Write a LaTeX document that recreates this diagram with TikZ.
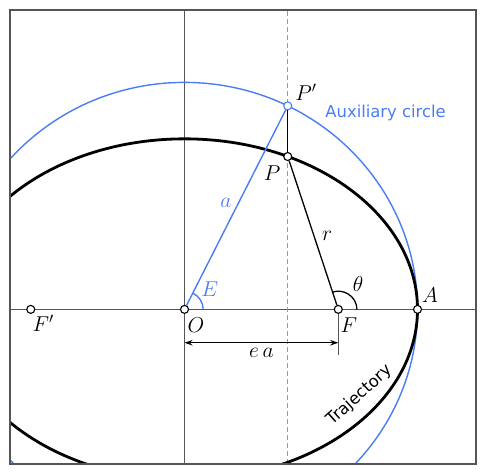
\RequirePackage{fix-cm}
\documentclass[tikz,border=0pt]{standalone}
\usepackage{fontspec}
\usetikzlibrary{arrows.meta}
\newfontfamily\plotsans{DejaVu Sans}
\definecolor{auxblue}{HTML}{4A7DF5}
\definecolor{axisgray}{HTML}{555555}
\definecolor{dashgray}{HTML}{999999}
\definecolor{framegray}{HTML}{555555}
\pgfdeclarelayer{bg}
\pgfsetlayers{bg,main}

\begin{document}
\begin{tikzpicture}[x=233pt, y=227pt,
  pt/.style={circle, draw, fill=white, line width=1.1pt, inner sep=0pt, minimum size=8pt},
  mlabel/.style={inner sep=0pt, font=\fontsize{21.5}{25}\selectfont},
  tlabel/.style={inner sep=0pt, font=\plotsans\fontsize{16.4}{19}\selectfont}]
  \def\ecc{0.66}
  \def\bsemi{0.7513}
  \def\Eang{63.7}
  \pgfmathsetmacro\Px{cos(\Eang)}
  \pgfmathsetmacro\Py{\bsemi*sin(\Eang)}
  \pgfmathsetmacro\thang{atan2(\Py,\Px-\ecc)}
  \useasboundingbox (-0.792,-0.725) rectangle (1.294,1.363);
  \coordinate (frSW) at (-0.749,-0.681);
  \coordinate (frNE) at (1.25,1.318);

  % points on the orbit
  \node[pt] (O) at (0,0) {};
  \node[pt] (F) at (\ecc,0) {};
  \node[pt] (Fp) at (-\ecc,0) {};
  \node[pt] (A) at (1,0) {};
  \node[pt] (P) at (\Px,\Py) {};
  \node[pt, draw=auxblue] (Pp) at ({cos(\Eang)},{sin(\Eang)}) {};
  \coordinate (Ftick) at (\ecc,-0.2);
  \coordinate (eaL) at (0,-0.147);
  \coordinate (eaR) at (\ecc,-0.147);

  \begin{pgfonlayer}{bg}
    \begin{scope}
      \clip (frSW) rectangle (frNE);
      \draw[axisgray, line width=1pt] (frSW |- O) -- (frNE |- O);
      \draw[axisgray, line width=1pt] (O |- frSW) -- (O |- frNE);
      \draw[dashgray, line width=1.4pt, dash pattern=on 5pt off 3pt] (P |- frSW) -- (P |- frNE);
      \draw[auxblue, line width=1.4pt] (O) circle[radius=1];
      \draw[line width=2.8pt] (O) ellipse[x radius=1, y radius=\bsemi];
    \end{scope}
  \end{pgfonlayer}

  % radii and construction lines
  \draw[line width=1.5pt] (P) -- (Pp);
  \draw[auxblue, line width=1.4pt] (O) -- (Pp);
  \draw[line width=1.3pt] (F) -- (P);
  \draw[axisgray, line width=1pt] (F) -- (Ftick);
  \draw[line width=1.3pt, {Stealth[length=8pt,width=5.5pt]}-{Stealth[length=8pt,width=5.5pt]}] (eaL) -- (eaR)
    node[mlabel, midway, below=5pt] (lea) {$e\,a$};
  \draw[auxblue, line width=1.4pt] ([shift={(0.08,0)}]O.center) arc[start angle=0, end angle=\Eang, radius=0.08];
  \draw[line width=1.3pt] ([shift={(0.08,0)}]F.center) arc[start angle=0, end angle=\thang, radius=0.08];

  % labels
  \node[mlabel] (lPp) at (0.521,0.957) {$P'$};
  \node[mlabel] (lP) at (0.376,0.600) {$P$};
  \node[mlabel, text=auxblue] (lE) at (0.109,0.089) {$E$};
  \node[mlabel] (lO) at (0.049,-0.069) {$O$};
  \node[mlabel] (lr) at (0.612,0.323) {$r$};
  \node[mlabel] (lth) at (0.745,0.111) {$\theta$};
  \node[mlabel] (lF) at (0.706,-0.069) {$F$};
  \node[mlabel] (lA) at (1.054,0.063) {$A$};
  \node[mlabel, text=auxblue] (la) at (0.178,0.468) {$a$};
  \node[mlabel] (lFp) at (-0.607,-0.060) {$F'$};
  \node[tlabel, text=auxblue] (laux) at (0.863,0.867) {Auxiliary circle};
  \node[tlabel, rotate=42] (ltraj) at (0.752,-0.378) {Trajectory};

  \draw[framegray, line width=1.8pt] (frSW) rectangle (frNE);
\end{tikzpicture}
\end{document}
